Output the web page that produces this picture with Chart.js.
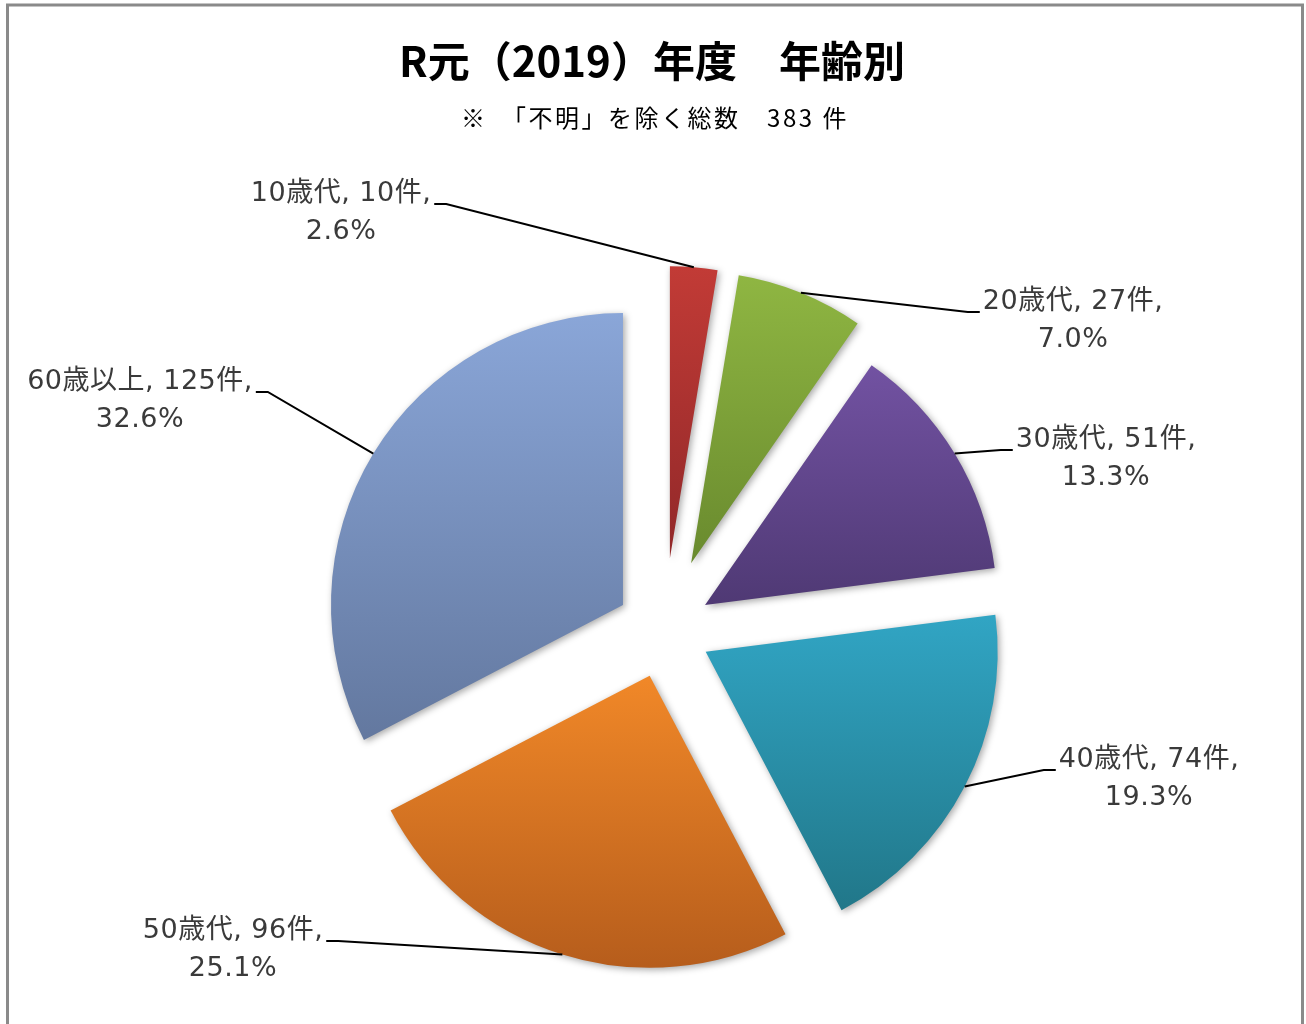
<!DOCTYPE html>
<html>
<head>
<meta charset="utf-8">
<script src="https://cdn.jsdelivr.net/npm/chart.js"></script>
<style>
    html, body { margin: 0; padding: 0; background: #fff; overflow: hidden; }
</style>
</head>
<body>
<canvas id="grafica" width="1306" height="1024"></canvas>
<script>
// Datos del gráfico
const categorias = ["10歳代", "20歳代", "30歳代", "40歳代", "50歳代", "60歳以上"];
const casos = [10, 27, 51, 74, 96, 125];
const titulo = "R元（2019）年度　年齢別";

// Colores (degradado de arriba hacia abajo de cada porción)
const coloresArriba = ["#c23b36", "#8fb642", "#7252a2", "#31a5c4", "#f18828", "#8aa6d8"];
const coloresAbajo = ["#912829", "#698a2e", "#4f3974", "#217789", "#b65d1c", "#63789f"];

// Separación de cada porción y posición de las etiquetas
const separacion = [72, 72, 48, 47, 48, 48];
const posEtiquetas = [[341, 194], [1073, 302], [1106, 440], [1149, 760], [233, 931], [140, 382]];

const total = casos.reduce((a, b) => a + b, 0);
const subtitulo = "※　「不明」を除く総数　" + total + " 件";
const fuenteEtiqueta = "27px 'DejaVu Sans', 'Noto Sans CJK JP', sans-serif";

const marco = {
    id: 'marco',
    beforeDraw(chart) {
        const ctx = chart.ctx;
        ctx.save();
        ctx.strokeStyle = "#8a8a8a";
        ctx.lineWidth = 3;
        ctx.strokeRect(7.5, 5, 1295, 1100);
        ctx.fillStyle = "#000";
        ctx.textAlign = "center";
        ctx.textBaseline = "middle";
        ctx.font = "bold 42px 'Noto Sans CJK JP', sans-serif";
        ctx.fillText(titulo, 652, 61);
        ctx.font = "24px 'Noto Sans CJK JP', sans-serif";
        ctx.letterSpacing = "2.5px";
        ctx.fillText(subtitulo, 655, 118);
        ctx.restore();
    }
};

const explotar = {
    id: 'explotar',
    beforeDatasetDraw(chart, args) {
        const ctx = chart.ctx;
        args.meta.data.forEach((arco, i) => {
            const medio = (arco.startAngle + arco.endAngle) / 2;
            let minY = arco.y, maxY = arco.y;
            for (let k = 0; k <= 60; k++) {
                const a = arco.startAngle + (arco.endAngle - arco.startAngle) * k / 60;
                const y = arco.y + Math.sin(a) * arco.outerRadius;
                minY = Math.min(minY, y);
                maxY = Math.max(maxY, y);
            }
            const grad = ctx.createLinearGradient(0, minY, 0, maxY);
            grad.addColorStop(0, coloresArriba[i]);
            grad.addColorStop(1, coloresAbajo[i]);
            arco.options = Object.assign({}, arco.options, { backgroundColor: grad, offset: 0, borderWidth: 0 });

            ctx.save();
            ctx.translate(Math.cos(medio) * separacion[i], Math.sin(medio) * separacion[i]);
            ctx.shadowColor = "rgba(0,0,0,0.35)";
            ctx.shadowBlur = 7;
            ctx.shadowOffsetX = 2;
            ctx.shadowOffsetY = 2;
            arco.draw(ctx);
            ctx.restore();
        });
        return false;
    }
};

const etiquetas = {
    id: 'etiquetas',
    afterDatasetsDraw(chart) {
        const ctx = chart.ctx;
        const meta = chart.getDatasetMeta(0);
        ctx.save();
        ctx.font = fuenteEtiqueta;
        ctx.letterSpacing = "0.5px";
        meta.data.forEach((arco, i) => {
            const medio = (arco.startAngle + arco.endAngle) / 2;
            const px = arco.x + Math.cos(medio) * (arco.outerRadius + separacion[i]);
            const py = arco.y + Math.sin(medio) * (arco.outerRadius + separacion[i]);
            const linea1 = categorias[i] + ", " + casos[i] + "件,";
            const linea2 = (casos[i] / total * 100).toFixed(1) + "%";
            const [lx, ly] = posEtiquetas[i];
            const w = ctx.measureText(linea1).width;
            const izquierda = lx < px;
            const ex = izquierda ? lx + w / 2 + 3 : lx - w / 2 - 3;
            const ex2 = izquierda ? ex + 12 : ex - 12;
            const ey = ly + 10;

            ctx.beginPath();
            ctx.moveTo(ex, ey);
            ctx.lineTo(ex2, ey);
            ctx.lineTo(px, py);
            ctx.strokeStyle = "#000";
            ctx.lineWidth = 2;
            ctx.stroke();

            ctx.fillStyle = "#3a3a3a";
            ctx.textAlign = "center";
            ctx.textBaseline = "middle";
            ctx.fillText(linea1, lx, ly);
            ctx.fillText(linea2, lx, ly + 38);
        });
        ctx.restore();
    }
};

const ctx = document.getElementById("grafica").getContext("2d");
const miGrafica = new Chart(ctx, {
    type: 'pie',
    data: {
        labels: categorias,
        datasets: [{
            data: casos,
            backgroundColor: coloresArriba,
            borderWidth: 0,
            radius: 292
        }]
    },
    options: {
        responsive: false,
        animation: false,
        events: [],
        layout: { padding: { left: 22, right: 0, top: 236, bottom: 0 } },
        plugins: {
            legend: { display: false },
            tooltip: { enabled: false }
        }
    },
    plugins: [marco, explotar, etiquetas]
});
</script>
</body>
</html>
